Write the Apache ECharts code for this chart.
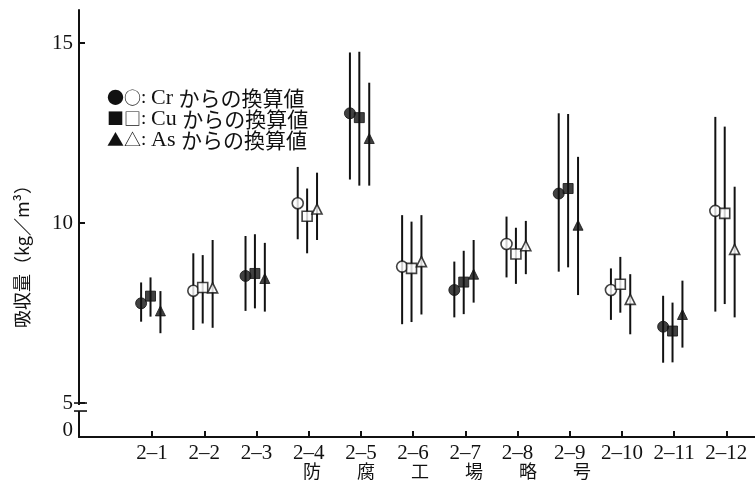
<!DOCTYPE html>
<html><head><meta charset="utf-8">
<script src="https://cdn.jsdelivr.net/npm/echarts@6/dist/echarts.min.js"></script>
<style>html,body{margin:0;padding:0;background:#fff}#c{width:755px;height:489px}</style>
</head><body><div id="c"></div>
<script>
const categories = ['2-1','2-2','2-3','2-4','2-5','2-6','2-7','2-8','2-9','2-10','2-11','2-12'];
const filled = [true,false,true,false,true,false,true,false,true,false,true,false];
const crMean = [7.77, 8.12, 8.53, 10.55, 13.05, 8.79, 8.14, 9.42, 10.82, 8.14, 7.12, 10.34];
const crLow  = [7.26, 7.03, 7.56, 9.55, 11.21, 7.19, 7.38, 8.49, 8.65, 7.31, 6.12, 7.54];
const crHigh = [8.35, 9.16, 9.64, 11.56, 14.74, 10.22, 8.93, 10.18, 13.05, 8.74, 7.98, 12.95];
const cuMean = [7.97, 8.21, 8.60, 10.19, 12.93, 8.74, 8.36, 9.14, 10.96, 8.30, 7.00, 10.27];
const cuLow  = [7.40, 7.21, 7.63, 9.16, 11.04, 7.25, 7.47, 8.31, 8.77, 7.51, 6.13, 7.75];
const cuHigh = [8.49, 9.11, 9.69, 10.96, 14.76, 10.04, 9.23, 9.87, 13.03, 9.06, 7.79, 12.68];
const asMean = [7.56, 8.20, 8.46, 10.39, 12.35, 8.93, 8.58, 9.37, 9.94, 7.88, 7.46, 9.27];
const asLow  = [6.94, 7.09, 7.54, 9.53, 11.04, 7.46, 7.79, 8.58, 8.00, 6.91, 6.54, 7.38];
const asHigh = [8.11, 9.53, 9.45, 11.40, 13.90, 10.22, 9.53, 10.06, 11.84, 8.58, 8.40, 11.01];
const yTicks = [5, 10, 15];
const yZeroLabelPos = 4.25;
const legendSymbols = ['●○', '■□', '▲△'];
const legendElems = ['Cr', 'Cu', 'As'];
const legendSuffix = 'からの換算値';

const FONT = "'Liberation Serif','Noto Sans CJK JP',serif";
const CJK = "'Noto Sans CJK JP',sans-serif";
const elements = [
  {name:'Cr', mean:crMean, low:crLow, high:crHigh, offset:-0.21, symbol:'circle', size:11},
  {name:'Cu', mean:cuMean, low:cuLow, high:cuHigh, offset:-0.03, symbol:'rect', size:10},
  {name:'As', mean:asMean, low:asLow, high:asHigh, offset:0.16, symbol:'triangle', size:10}
];
const series = [];
elements.forEach(el => {
  series.push({
    type:'custom', name:el.name+'-err', z:2,
    data: categories.map((c,i)=>[i+el.offset, el.low[i], el.high[i]]),
    renderItem:(params, api)=>{
      const p1 = api.coord([api.value(0), api.value(1)]);
      const p2 = api.coord([api.value(0), api.value(2)]);
      return {type:'line', shape:{x1:p1[0],y1:p1[1],x2:p2[0],y2:p2[1]}, style:{stroke:'#111', lineWidth:2}};
    },
    encode:{x:0, y:[1,2]}
  });
  series.push({
    type:'scatter', name:el.name, z:5, symbol:el.symbol, symbolSize:el.size,
    data: categories.map((c,i)=>({value:[i+el.offset, el.mean[i]],
      itemStyle: filled[i] ? {color:'#111', borderColor:'#111', borderWidth:1}
                           : {color:'#fff', borderColor:'#111', borderWidth:1.6}}))
  });
});

const chart = echarts.init(document.getElementById('c'));
chart.setOption({
  animation:false,
  backgroundColor:'#fff',
  grid:{left:79, right:0, top:10, bottom:52},
  xAxis:{type:'value', min:-1.4, max:11.55,
    axisLine:{onZero:false, lineStyle:{color:'#111', width:2}},
    axisTick:{inside:true, length:6, lineStyle:{color:'#111', width:2}, customValues:categories.map((c,i)=>i)},
    axisLabel:{customValues:categories.map((c,i)=>i),
      formatter:v=>(categories[Math.round(v)]||'').replace('-', '–'),
      color:'#111', fontSize:21, fontFamily:FONT, margin:6},
    splitLine:{show:false}},
  yAxis:{type:'value', min:4.056, max:15.92,
    axisLine:{show:true, onZero:false, lineStyle:{color:'#111', width:2}},
    axisTick:{inside:true, length:6, lineStyle:{color:'#111', width:2}, customValues:yTicks},
    axisLabel:{customValues:[yZeroLabelPos].concat(yTicks), formatter:v=>(v<4.9?'0':String(v)),
      color:'#111', fontSize:21, fontFamily:FONT, margin:6},
    splitLine:{show:false}},
  series:series
});

const y5 = chart.convertToPixel({yAxisIndex:0}, 5);
const xa = chart.convertToPixel({xAxisIndex:0}, -1.4);
const graphics = [
  {type:'rect', shape:{x:xa-2, y:y5+2, width:4, height:6}, style:{fill:'#fff'}, z:10},
  {type:'line', shape:{x1:xa-5, y1:y5, x2:xa+8, y2:y5}, style:{stroke:'#111', lineWidth:1.6}, z:11},
  {type:'line', shape:{x1:xa-5, y1:y5+8, x2:xa+8, y2:y5+8}, style:{stroke:'#111', lineWidth:1.6}, z:11},
  {type:'text', x:22, y:252, rotation:Math.PI/2,
    style:{text:'吸収量（kg／m³）', fill:'#111', font:"18px "+CJK, align:'center', verticalAlign:'middle'}},
  {type:'text', x:447, y:471,
    style:{text:'防\u3000\u3000腐\u3000\u3000工\u3000\u3000場\u3000\u3000略\u3000\u3000号', fill:'#111', font:"18px "+CJK, align:'center', verticalAlign:'middle'}}
];
legendSymbols.forEach((s,k)=>{
  graphics.push({type:'text', x:107, y:98+k*21,
    style:{text:'{s|'+s+'}{c|: }{e|'+legendElems[k]+' }{j|'+legendSuffix+'}', align:'left', verticalAlign:'middle',
      rich:{
        s:{font:"17px "+CJK, fill:'#111'},
        c:{font:"19px "+FONT, fill:'#111'},
        e:{font:"22px "+FONT, fill:'#111'},
        j:{font:"21px "+CJK, fill:'#111'}
      }}});
});
chart.setOption({graphic:graphics});
</script></body></html>
